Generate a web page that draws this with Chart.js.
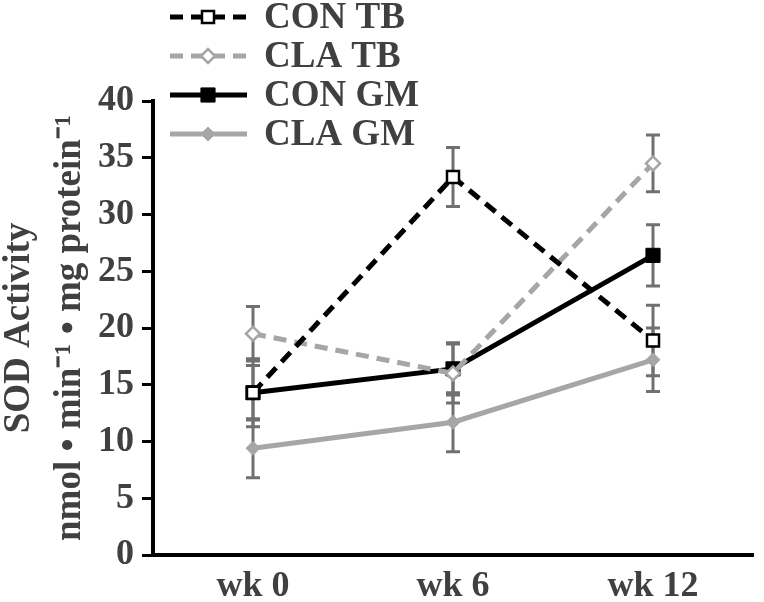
<!DOCTYPE html>
<html>
<head>
<meta charset="utf-8">
<script src="https://cdn.jsdelivr.net/npm/chart.js@4"></script>
<style>
  body { margin: 0; background: #fff; }
  #wrap { width: 764px; height: 602px; }
</style>
</head>
<body>
<div id="wrap"><canvas id="chart" width="764" height="602"></canvas></div>
<script>
// values
const weeks = ["wk 0", "wk 6", "wk 12"];
const seriesNames = ["CON TB", "CLA TB", "CON GM", "CLA GM"];
const conTB = [14.3, 33.3, 18.9];
const conTBErr = [3.0, 2.6, 3.1];
const claTB = [19.5, 16.0, 34.5];
const claTBErr = [2.4, 2.6, 2.5];
const conGM = [14.3, 16.4, 26.4];
const conGMErr = [2.4, 2.3, 2.7];
const claGM = [9.4, 11.7, 17.2];
const claGMErr = [2.6, 2.6, 2.8];
const yTicks = [0, 5, 10, 15, 20, 25, 30, 35, 40];
const yTitle = ["SOD Activity", "nmol \u2022 min\u207B\u00B9 \u2022 mg protein\u207B\u00B9"];

const BLACK = "#000000";
const GREY = "#a6a6a6";
const TEXT = "#404040";
const FONT = "'Liberation Serif', 'Times New Roman', serif";

const errs = [conTBErr, claTBErr, conGMErr, claGMErr];

// error bars, drawn under the lines
const errorBars = {
  id: "errorBars",
  beforeDatasetsDraw(chart) {
    const ctx = chart.ctx;
    const y = chart.scales.y;
    ctx.save();
    ctx.strokeStyle = "#707070";
    ctx.lineWidth = 3;
    chart.data.datasets.forEach((ds, i) => {
      const meta = chart.getDatasetMeta(i);
      meta.data.forEach((pt, j) => {
        const v = ds.data[j], e = errs[i][j];
        const top = y.getPixelForValue(v + e);
        const bot = y.getPixelForValue(v - e);
        ctx.beginPath();
        ctx.moveTo(pt.x, top);
        ctx.lineTo(pt.x, bot);
        ctx.moveTo(pt.x - 7, top);
        ctx.lineTo(pt.x + 7, top);
        ctx.moveTo(pt.x - 7, bot);
        ctx.lineTo(pt.x + 7, bot);
        ctx.stroke();
      });
    });
    ctx.restore();
  }
};

// legend in the top left corner, over the plot
const cornerLegend = {
  id: "cornerLegend",
  afterDraw(chart) {
    const ctx = chart.ctx;
    ctx.save();
    chart.data.datasets.forEach((ds, i) => {
      const ly = 17 + 39 * i;
      ctx.strokeStyle = ds.borderColor;
      ctx.lineWidth = ds.borderWidth;
      ctx.setLineDash(ds.borderDash || []);
      ctx.beginPath();
      ctx.moveTo(170, ly);
      ctx.lineTo(247, ly);
      ctx.stroke();
      ctx.setLineDash([]);
      ctx.fillStyle = ds.pointBackgroundColor;
      ctx.strokeStyle = ds.pointBorderColor;
      ctx.lineWidth = ds.pointBorderWidth;
      Chart.helpers.drawPoint(ctx, {
        pointStyle: ds.pointStyle,
        radius: ds.pointRadius,
        rotation: 0,
        borderWidth: ds.pointBorderWidth
      }, 208, ly);
      ctx.fillStyle = TEXT;
      ctx.font = "bold 37px " + FONT;
      ctx.textBaseline = "middle";
      ctx.textAlign = "left";
      ctx.fillText(ds.label, 264, ly + 1);
    });
    ctx.restore();
  }
};

new Chart(document.getElementById("chart"), {
  type: "line",
  data: {
    labels: weeks,
    datasets: [
      {
        label: seriesNames[0], data: conTB,
        borderColor: BLACK, borderWidth: 5, borderDash: [13, 8],
        pointStyle: "rect", pointRadius: 8.5,
        pointBackgroundColor: "#ffffff", pointBorderColor: BLACK, pointBorderWidth: 2.5
      },
      {
        label: seriesNames[1], data: claTB,
        borderColor: GREY, borderWidth: 5, borderDash: [13, 8],
        pointStyle: "rectRot", pointRadius: 7,
        pointBackgroundColor: "#ffffff", pointBorderColor: GREY, pointBorderWidth: 2.5
      },
      {
        label: seriesNames[2], data: conGM,
        borderColor: BLACK, borderWidth: 5,
        pointStyle: "rect", pointRadius: 10,
        pointBackgroundColor: BLACK, pointBorderColor: BLACK, pointBorderWidth: 1
      },
      {
        label: seriesNames[3], data: claGM,
        borderColor: GREY, borderWidth: 5,
        pointStyle: "rectRot", pointRadius: 7,
        pointBackgroundColor: GREY, pointBorderColor: GREY, pointBorderWidth: 1
      }
    ]
  },
  options: {
    responsive: false,
    devicePixelRatio: 1,
    animation: false,
    layout: { padding: { top: 101, right: 2, left: 0, bottom: 0 } },
    plugins: {
      legend: { display: false },
      tooltip: { enabled: false }
    },
    scales: {
      x: {
        offset: true,
        grid: { display: false, drawTicks: false },
        border: { display: true, color: BLACK, width: 4 },
        ticks: {
          color: TEXT,
          padding: 10,
          maxRotation: 0,
          font: { family: FONT, size: 36, weight: "bold" }
        },
        afterFit: s => { s.height = 47; }
      },
      y: {
        min: 0,
        max: 40,
        afterBuildTicks: s => { s.ticks = yTicks.map(v => ({ value: v })); },
        grid: { drawOnChartArea: false, drawTicks: true, tickLength: 11, color: BLACK, lineWidth: 3 },
        border: { display: true, color: BLACK, width: 4 },
        ticks: {
          color: TEXT,
          padding: 8,
          font: { family: FONT, size: 36, weight: "bold" }
        },
        title: {
          display: true,
          text: yTitle,
          color: TEXT,
          padding: { top: -6, bottom: 0 },
          font: { family: FONT, size: 37, weight: "bold", lineHeight: 1.38 }
        },
        afterFit: s => { s.width = 153; }
      }
    }
  },
  plugins: [errorBars, cornerLegend]
});
</script>
</body>
</html>
